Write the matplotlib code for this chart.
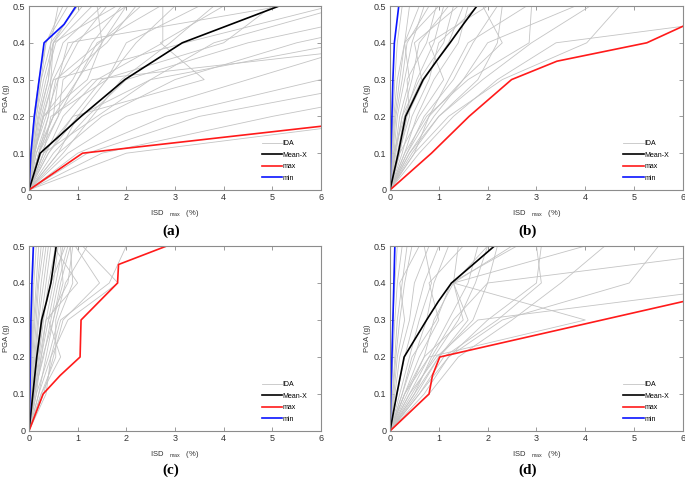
import matplotlib

matplotlib.use("Agg")

import matplotlib.pyplot as plt

# PGA levels (g) at which every IDA run is recorded
PGA_LEVELS = [0, 0.1, 0.2, 0.3, 0.4, 0.5]

# IDA runs: ISDmax (%) at PGA 0.1 .. 0.5 (0 at PGA 0 is added later)
A_IDA = [
    [0.04, 0.10, 0.20, 0.35, 0.80],
    [0.05, 0.12, 0.25, 0.45, 1.00],
    [0.06, 0.15, 0.30, 0.50, 0.95],
    [0.08, 0.18, 0.35, 0.55, 1.30],
    [0.07, 0.20, 0.40, 0.50, 1.80],
    [0.10, 0.25, 0.45, 0.70, 1.50],
    [0.12, 0.28, 0.50, 0.90, 2.00],
    [0.10, 0.35, 0.60, 1.00, 1.60],
    [0.15, 0.40, 0.55, 1.45, 2.30],
    [0.20, 0.50, 1.00, 1.40, 2.70],
    [0.25, 0.60, 0.70, 1.60, 2.20],
    [0.10, 0.30, 0.90, 1.30, 1.90],
    [0.30, 0.45, 1.60, 2.00, 3.50],
    [0.35, 0.70, 1.40, 2.75, 2.75],
    [0.40, 1.00, 2.50, 3.80, 6.50],
    [0.50, 1.20, 2.00, 4.50, 8.00],
    [0.60, 1.50, 3.00, 5.50, 9.00],
    [0.30, 0.90, 3.60, 2.70, 4.00],
    [0.80, 2.00, 4.50, 7.00, 10.0],
    [1.00, 2.80, 6.00, 9.00, 12.0],
    [1.20, 3.50, 7.50, 10.0, 13.0],
    [1.50, 5.00, 9.00, 12.0, 15.0],
    [2.00, 8.00, 12.0, 14.0, 16.0],
    [0.20, 0.50, 1.30, 8.00, 11.0],
    [0.30, 1.40, 2.50, 6.50, 10.0],
    [0.15, 0.50, 0.60, 0.80, 5.20],
    [0.10, 0.30, 0.50, 3.20, 6.20],
    [0.40, 0.90, 1.50, 4.00, 5.00],
    [0.20, 0.60, 1.00, 1.50, 2.00],
    [0.05, 0.15, 0.25, 0.35, 0.70],
    [0.09, 0.22, 0.40, 0.45, 0.60],
    [0.20, 0.40, 0.45, 0.50, 1.10],
    [0.12, 0.30, 1.20, 1.50, 1.40],
    [0.60, 1.00, 1.60, 2.20, 3.00],
    [0.70, 1.30, 1.90, 2.90, 3.80],
]
A_MEAN_X = [0, 0.23, 1.07, 1.97, 3.15, 5.14]
A_MEAN_Y = [0, 0.1, 0.2, 0.3, 0.4, 0.5]
A_MAX_X = [0, 1.1, 7.8]
A_MAX_Y = [0, 0.1, 0.2]
A_MIN_X = [0, 0.04, 0.11, 0.21, 0.31, 0.72, 0.97]
A_MIN_Y = [0, 0.1, 0.2, 0.3, 0.4, 0.45, 0.5]

B_IDA = [
    [0.03, 0.06, 0.10, 0.15, 0.25],
    [0.04, 0.08, 0.15, 0.30, 0.40],
    [0.05, 0.10, 0.20, 0.30, 0.60],
    [0.06, 0.12, 0.25, 0.35, 0.80],
    [0.08, 0.15, 0.30, 0.45, 0.70],
    [0.10, 0.20, 0.40, 0.30, 1.00],
    [0.12, 0.25, 0.45, 0.60, 1.20],
    [0.15, 0.30, 0.55, 0.90, 1.10],
    [0.20, 0.35, 0.70, 1.20, 1.50],
    [0.25, 0.45, 0.80, 1.00, 1.80],
    [0.30, 0.55, 0.90, 1.40, 1.60],
    [0.20, 0.60, 1.10, 0.80, 2.00],
    [0.35, 0.70, 1.30, 1.70, 2.20],
    [0.40, 0.90, 1.50, 2.30, 1.90],
    [0.45, 1.00, 1.80, 2.20, 2.30],
    [0.50, 0.80, 1.20, 1.60, 2.80],
    [0.30, 0.75, 1.60, 2.85, 2.90],
    [0.60, 1.30, 2.20, 3.40, 9.20],
    [0.50, 1.20, 2.30, 4.03, 4.70],
    [0.40, 1.00, 1.90, 2.90, 4.10],
    [0.35, 0.80, 1.50, 2.00, 3.80],
    [0.10, 0.25, 0.60, 1.10, 1.30],
    [0.18, 0.40, 0.35, 0.75, 0.95],
    [0.07, 0.30, 0.65, 0.50, 1.40],
]
B_MEAN_X = [0, 0.17, 0.32, 0.68, 0.95, 1.23, 1.50, 1.78]
B_MEAN_Y = [0, 0.1, 0.2, 0.3, 0.35, 0.4, 0.45, 0.5]
B_MAX_X = [0, 0.85, 1.62, 2.49, 3.42, 5.26, 6.0]
B_MAX_Y = [0, 0.1, 0.2, 0.3, 0.35, 0.4, 0.445]
B_MIN_X = [0, 0.02, 0.04, 0.06, 0.09, 0.18]
B_MIN_Y = [0, 0.1, 0.2, 0.3, 0.4, 0.5]

C_IDA = [
    [0.02, 0.04, 0.06, 0.08, 0.10],
    [0.03, 0.05, 0.08, 0.10, 0.15],
    [0.03, 0.06, 0.10, 0.15, 0.20],
    [0.04, 0.08, 0.12, 0.18, 0.25],
    [0.05, 0.10, 0.15, 0.20, 0.30],
    [0.05, 0.12, 0.18, 0.25, 0.35],
    [0.06, 0.14, 0.20, 0.30, 0.40],
    [0.08, 0.15, 0.25, 0.35, 0.45],
    [0.10, 0.20, 0.30, 0.40, 0.55],
    [0.12, 0.22, 0.35, 0.50, 0.60],
    [0.15, 0.25, 0.40, 0.55, 0.70],
    [0.10, 0.30, 0.45, 0.60, 0.80],
    [0.20, 0.35, 0.50, 0.70, 0.65],
    [0.25, 0.65, 0.40, 0.80, 0.90],
    [0.15, 0.40, 0.60, 0.90, 0.85],
    [0.30, 0.50, 0.70, 1.45, 0.95],
    [0.20, 0.45, 0.65, 1.65, 2.00],
    [0.25, 0.55, 0.55, 0.75, 1.20],
    [0.10, 0.25, 0.35, 1.00, 0.50],
    [0.35, 0.45, 0.80, 1.83, 1.10],
    [0.08, 0.18, 0.28, 0.45, 0.75],
    [0.12, 0.28, 0.50, 0.65, 0.85],
]
C_MEAN_X = [0, 0.08, 0.16, 0.26, 0.36, 0.45, 0.56]
C_MEAN_Y = [0, 0.1, 0.2, 0.3, 0.35, 0.4, 0.5]
C_MAX_X = [0, 0.29, 0.64, 1.05, 1.07, 1.82, 1.84, 2.83]
C_MAX_Y = [0, 0.1, 0.15, 0.2, 0.3, 0.4, 0.45, 0.5]
C_MIN_X = [0, 0.02, 0.03, 0.04, 0.06, 0.09]
C_MIN_Y = [0, 0.1, 0.2, 0.3, 0.4, 0.5]

D_IDA = [
    [0.02, 0.04, 0.06, 0.10, 0.15],
    [0.03, 0.06, 0.10, 0.15, 0.25],
    [0.05, 0.10, 0.15, 0.25, 0.35],
    [0.06, 0.12, 0.20, 0.30, 0.45],
    [0.08, 0.15, 0.30, 0.20, 0.60],
    [0.10, 0.20, 0.40, 0.50, 0.80],
    [0.15, 0.30, 0.50, 0.70, 1.00],
    [0.20, 0.40, 0.60, 0.85, 0.70],
    [0.25, 0.50, 0.75, 0.90, 1.20],
    [0.30, 0.60, 1.00, 0.80, 1.50],
    [0.35, 0.70, 0.90, 1.30, 1.40],
    [0.40, 0.80, 1.20, 1.60, 1.80],
    [0.45, 0.90, 1.40, 1.75, 2.00],
    [0.50, 0.85, 1.30, 2.00, 2.20],
    [0.55, 1.00, 1.60, 1.30, 2.50],
    [0.60, 1.10, 2.20, 3.10, 3.00],
    [0.30, 0.70, 1.50, 1.30, 4.00],
    [0.70, 1.20, 2.30, 4.90, 5.50],
    [0.80, 1.40, 2.50, 3.50, 4.40],
    [0.60, 1.20, 2.00, 3.00, 3.10],
    [0.40, 0.95, 1.80, 7.80, 12.0],
    [0.50, 1.00, 1.70, 2.00, 8.00],
    [0.30, 0.80, 4.00, 1.30, 2.00],
    [0.25, 0.45, 0.95, 1.25, 2.60],
]
D_MEAN_X = [0, 0.14, 0.29, 0.75, 0.99, 1.26, 2.14]
D_MEAN_Y = [0, 0.1, 0.2, 0.3, 0.35, 0.4, 0.5]
D_MAX_X = [0, 0.8, 0.87, 1.02, 7.67]
D_MAX_Y = [0, 0.1, 0.15, 0.2, 0.4]
D_MIN_X = [0, 0.02, 0.04, 0.06, 0.08, 0.10]
D_MIN_Y = [0, 0.1, 0.2, 0.3, 0.4, 0.5]

GRAY = "#c4c4c4"
AXIS_COLOR = "#8c8c8c"

plt.rcParams["font.family"] = ["Liberation Sans", "DejaVu Sans"]


def draw_panel(ax, ida, mean_xy, max_xy, min_xy):
    for i, run in enumerate(ida):
        ax.plot([0] + run, PGA_LEVELS, color=GRAY, lw=0.6,
                label="IDA" if i == 0 else None)
    ax.plot(mean_xy[0], mean_xy[1], color="black", lw=1.2, label="Mean-X")
    ax.plot(max_xy[0], max_xy[1], color="#ff1a1a", lw=1.2, label="max")
    ax.plot(min_xy[0], min_xy[1], color="#0a14ff", lw=1.2, label="min")

    ax.set_xlim(0, 6)
    ax.set_ylim(0, 0.5)
    ax.set_xticks(range(7))
    ax.set_yticks([0, 0.1, 0.2, 0.3, 0.4, 0.5])
    ax.set_yticklabels(["0", "0.1", "0.2", "0.3", "0.4", "0.5"])
    ax.tick_params(direction="in", length=3, width=0.6, color=AXIS_COLOR,
                   labelsize=6.5, labelcolor="#333333", pad=2.5,
                   top=True, right=True)
    for spine in ax.spines.values():
        spine.set_color(AXIS_COLOR)
        spine.set_linewidth(0.8)

    ax.set_ylabel("PGA (g)", fontsize=5.5, color="#333333", labelpad=2)
    ax.set_xlabel(r"ISD   $_{\mathregular{max}}$   (%)", fontsize=5.5,
                  color="#333333", labelpad=4)

    ax.legend(loc="upper left", bbox_to_anchor=(0.797, 0.27), frameon=False,
              fontsize=5, handlelength=2.9, handletextpad=0.1,
              labelspacing=0.65, borderpad=0, borderaxespad=0)


fig = plt.figure(figsize=(6.85, 4.8), dpi=100)
ax_a = fig.add_axes([0.0423, 0.6042, 0.4263, 0.3833])
ax_b = fig.add_axes([0.5693, 0.6042, 0.4277, 0.3833])
ax_c = fig.add_axes([0.0423, 0.1021, 0.4263, 0.3854])
ax_d = fig.add_axes([0.5693, 0.1021, 0.4277, 0.3854])

draw_panel(ax_a, A_IDA, (A_MEAN_X, A_MEAN_Y), (A_MAX_X, A_MAX_Y), (A_MIN_X, A_MIN_Y))
draw_panel(ax_b, B_IDA, (B_MEAN_X, B_MEAN_Y), (B_MAX_X, B_MAX_Y), (B_MIN_X, B_MIN_Y))
draw_panel(ax_c, C_IDA, (C_MEAN_X, C_MEAN_Y), (C_MAX_X, C_MAX_Y), (C_MIN_X, C_MIN_Y))
draw_panel(ax_d, D_IDA, (D_MEAN_X, D_MEAN_Y), (D_MAX_X, D_MAX_Y), (D_MIN_X, D_MIN_Y))

for tag, x, y in [("(a)", 171, 231), ("(b)", 528, 231), ("(c)", 171, 470), ("(d)", 528, 470)]:
    fig.text(x / 685, 1 - y / 480, tag, ha="center", va="center", fontsize=11,
             fontweight="bold", family=["Liberation Serif", "DejaVu Serif"])

fig.savefig("out.png", dpi=100)
